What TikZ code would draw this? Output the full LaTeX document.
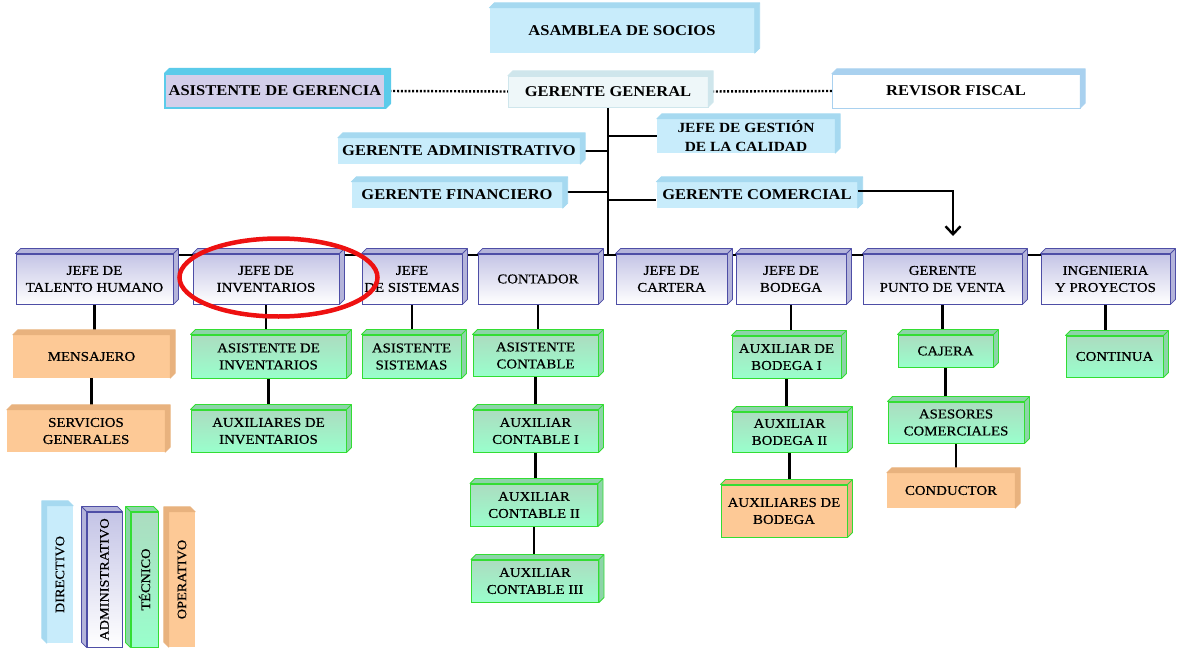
\documentclass[tikz,border=0pt]{standalone}
\usepackage{fontspec}
\setmainfont[FakeStretch=1.1]{Liberation Serif}
\newfontfamily\cajafont[FakeStretch=1.1,FakeBold=0.5]{Liberation Serif}
\usetikzlibrary{arrows.meta}

\pgfdeclarelayer{fondo}
\pgfsetlayers{fondo,main}

\definecolor{azulclaro}{HTML}{C8ECFB}
\definecolor{azulcara}{HTML}{A6D9F0}
\definecolor{cian}{HTML}{5BCBEA}
\definecolor{lilasuave}{HTML}{D3CFEA}
\definecolor{blancoazul}{HTML}{EEF7F9}
\definecolor{grisazul}{HTML}{CFE6EC}
\definecolor{azulborde}{HTML}{A9D1EF}
\definecolor{lila}{HTML}{C4C4E6}
\definecolor{lilaborde}{HTML}{4E4EA6}
\definecolor{lilacara}{HTML}{B4B4DA}
\definecolor{verde}{HTML}{99FFCC}
\definecolor{verdetop}{HTML}{ACDCC0}
\definecolor{verdeborde}{HTML}{33DD33}
\definecolor{verdecara}{HTML}{8CD4A8}
\definecolor{naranja}{HTML}{FDC996}
\definecolor{naranjacara}{HTML}{E8B27E}
\definecolor{rojo}{HTML}{EE1111}

\tikzset{
  caja/.style={inner sep=0pt, align=center},
  dir/.style={caja, fill=azulclaro, font=\bfseries\fontsize{15}{18}\selectfont},
  adm/.style={caja, draw=lilaborde, line width=0.9pt, top color=lila, bottom color=white,
    font=\cajafont\fontsize{13.5}{17}\selectfont},
  tec/.style={caja, draw=verdeborde, line width=1pt, top color=verdetop, bottom color=verde,
    font=\cajafont\fontsize{13.5}{17}\selectfont},
  ope/.style={caja, fill=naranja, font=\cajafont\fontsize{13.5}{17}\selectfont},
  linea/.style={line width=2.4pt, black},
  puntos/.style={line width=2.4pt, dash pattern=on 2pt off 1.8pt},
  leyenda/.style={font=\cajafont\fontsize{13}{15}\selectfont, minimum height=135},
}

\begin{document}
\begin{tikzpicture}[x=1pt,y=-1pt]
  \useasboundingbox (0,0) rectangle (1177,650);

  % directivo
  \node[dir, minimum width=265, minimum height=45] (asamblea) at (622,30.5) {ASAMBLEA DE SOCIOS};
  \node[dir, fill=lilasuave, draw=cian, line width=1.2pt, minimum width=220, minimum height=34]
    (asistente) at (275,91) {ASISTENTE DE GERENCIA};
  \node[dir, fill=blancoazul, draw=grisazul, minimum width=200, minimum height=31]
    (gerente) at (608,91.5) {GERENTE GENERAL};
  \node[dir, fill=white, draw=azulborde, minimum width=248, minimum height=34]
    (revisor) at (956,91) {REVISOR FISCAL};
  \node[dir, minimum width=178, minimum height=34, font=\bfseries\fontsize{14}{19}\selectfont]
    (calidad) at (746,136) {JEFE DE GESTIÓN\\DE LA CALIDAD};
  \node[dir, minimum width=242, minimum height=26] (gadmin) at (459,151) {GERENTE ADMINISTRATIVO};
  \node[dir, minimum width=211, minimum height=26] (financiero) at (457,195) {GERENTE FINANCIERO};
  \node[dir, minimum width=201, minimum height=26] (comercial) at (757,195) {GERENTE COMERCIAL};

  % jefaturas
  \node[adm, minimum width=157, minimum height=50] (talento) at (94.5,279) {JEFE DE\\TALENTO HUMANO};
  \node[adm, minimum width=146, minimum height=50] (inventarios) at (266,279) {JEFE DE\\INVENTARIOS};
  \node[adm, minimum width=100, minimum height=50] (sistemas) at (412,279) {JEFE\\DE SISTEMAS};
  \node[adm, minimum width=120, minimum height=50] (contador) at (538,279) {CONTADOR};
  \node[adm, minimum width=111, minimum height=50] (cartera) at (671.5,279) {JEFE DE\\CARTERA};
  \node[adm, minimum width=110, minimum height=50] (bodega) at (791,279) {JEFE DE\\BODEGA};
  \node[adm, minimum width=159, minimum height=50] (punto) at (942.5,279) {GERENTE\\PUNTO DE VENTA};
  \node[adm, minimum width=129, minimum height=50] (ingenieria) at (1105.5,279) {INGENIERIA\\Y PROYECTOS};

  % tecnico y operativo
  \node[ope, minimum width=157, minimum height=43] (mensajero) at (91.5,356.5) {MENSAJERO};
  \node[ope, minimum width=158, minimum height=42] (servicios) at (86,431) {SERVICIOS\\GENERALES};
  \node[tec, minimum width=155, minimum height=43] (asisinv) at (268.5,356.5) {ASISTENTE DE\\INVENTARIOS};
  \node[tec, minimum width=155, minimum height=42] (auxinv) at (268.5,431) {AUXILIARES DE\\INVENTARIOS};
  \node[tec, minimum width=99, minimum height=43] (asissis) at (411.5,356.5) {ASISTENTE\\SISTEMAS};
  \node[tec, minimum width=125, minimum height=41] (asiscont) at (535.5,355.5) {ASISTENTE\\CONTABLE};
  \node[tec, minimum width=125, minimum height=42] (auxcontI) at (535.5,431) {AUXILIAR\\CONTABLE I};
  \node[tec, minimum width=127, minimum height=42] (auxcontII) at (534,505) {AUXILIAR\\CONTABLE II};
  \node[tec, minimum width=127, minimum height=42] (auxcontIII) at (535,581) {AUXILIAR\\CONTABLE III};
  \node[tec, minimum width=109, minimum height=42] (auxbodI) at (786.5,357) {AUXILIAR DE\\BODEGA I};
  \node[tec, minimum width=115, minimum height=40] (auxbodII) at (789.5,432) {AUXILIAR\\BODEGA II};
  \node[tec, top color=naranja, bottom color=naranja, minimum width=126, minimum height=52]
    (auxbods) at (784,511) {AUXILIARES DE\\BODEGA};
  \node[tec, minimum width=95, minimum height=32] (cajera) at (945.5,351) {CAJERA};
  \node[tec, minimum width=136, minimum height=41] (asesores) at (956,422.5) {ASESORES\\COMERCIALES};
  \node[ope, minimum width=128, minimum height=35] (conductor) at (951,490.5) {CONDUCTOR};
  \node[tec, minimum width=97, minimum height=41] (continua) at (1114.5,356.5) {CONTINUA};

  % leyenda
  \node[dir, leyenda, minimum width=26, minimum height=137] (leydir) at (60,574.5) {\rotatebox{90}{DIRECTIVO}};
  \node[adm, leyenda, minimum width=35] (leyadm) at (104.5,579.5) {\rotatebox{90}{ADMINISTRATIVO}};
  \node[tec, leyenda, minimum width=27] (leytec) at (144.5,579.5) {\rotatebox{90}{TÉCNICO}};
  \node[ope, leyenda, minimum width=26] (leyope) at (182,579.5) {\rotatebox{90}{OPERATIVO}};

  % caras 3d
  \foreach \n/\c/\b in {asamblea/azulcara/azulcara, asistente/cian/cian, gerente/grisazul/grisazul,
      revisor/azulborde/azulborde, calidad/azulcara/azulcara, gadmin/azulcara/azulcara,
      financiero/azulcara/azulcara, comercial/azulcara/azulcara,
      talento/lilacara/lilaborde, inventarios/lilacara/lilaborde, sistemas/lilacara/lilaborde,
      contador/lilacara/lilaborde, cartera/lilacara/lilaborde, bodega/lilacara/lilaborde,
      punto/lilacara/lilaborde, ingenieria/lilacara/lilaborde,
      mensajero/naranjacara/naranjacara, servicios/naranjacara/naranjacara,
      conductor/naranjacara/naranjacara, auxbods/naranjacara/verdeborde,
      asisinv/verdecara/verdeborde, auxinv/verdecara/verdeborde, asissis/verdecara/verdeborde,
      asiscont/verdecara/verdeborde, auxcontI/verdecara/verdeborde, auxcontII/verdecara/verdeborde,
      auxcontIII/verdecara/verdeborde, auxbodI/verdecara/verdeborde, auxbodII/verdecara/verdeborde,
      cajera/verdecara/verdeborde, asesores/verdecara/verdeborde, continua/verdecara/verdeborde}
    \filldraw[fill=\c, draw=\b, line width=0.8pt, line join=round]
      (\n.north west) -- ++(5,-5) -| ([shift={(5,-5)}]\n.south east) -- (\n.south east)
      -- (\n.north east) -- cycle (\n.north east) -- ++(5,-5);
  \foreach \n/\c/\b in {leydir/azulcara/azulcara, leyadm/lilacara/lilaborde,
      leytec/verdecara/verdeborde, leyope/naranjacara/naranjacara}
    \filldraw[fill=\c, draw=\b, line width=0.8pt, line join=round]
      (\n.north east) -- ++(-5,-5) -| ([shift={(-5,-5)}]\n.south west) -- (\n.south west)
      -- (\n.north west) -- cycle (\n.north west) -- ++(-5,-5);

  % conectores
  \coordinate (nudo) at (608,255);
  \coordinate (flecha) at (953,236);
  \begin{pgfonlayer}{fondo}
    \draw[puntos] (asistente.east) -- (gerente.west);
    \draw[puntos] (gerente.east) -- (revisor.west);
    \draw[linea] (gerente.south) -- (nudo);
    \draw[linea] (talento.center |- nudo) -- (ingenieria.center |- nudo);
    \draw[linea] (calidad.west -| nudo) -- (calidad.west);
    \draw[linea] (gadmin.east) -- (gadmin.east -| nudo);
    \draw[linea] ([yshift=3pt]financiero.east) -- ([yshift=3pt]financiero.east -| nudo);
    \draw[linea] ([yshift=-5pt]comercial.west -| nudo) -- ([yshift=-5pt]comercial.west);
    \foreach \a/\b in {talento/mensajero, mensajero/servicios, inventarios/asisinv, asisinv/auxinv,
        sistemas/asissis, contador/asiscont, asiscont/auxcontI, auxcontI/auxcontII,
        auxcontII/auxcontIII, bodega/auxbodI, auxbodI/auxbodII, auxbodII/auxbods,
        punto/cajera, cajera/asesores, asesores/conductor, ingenieria/continua}
      \draw[linea] (\a.south) -- (\a.south |- \b.north);
  \end{pgfonlayer}
  \draw[linea, -{Straight Barb[length=8pt,width=15pt]}] ([yshift=4pt]comercial.east) -| (flecha);

  % marca
  \draw[rojo, line width=4.5pt] (278.5,277.5) ellipse [x radius=99pt, y radius=39pt];
\end{tikzpicture}
\end{document}
